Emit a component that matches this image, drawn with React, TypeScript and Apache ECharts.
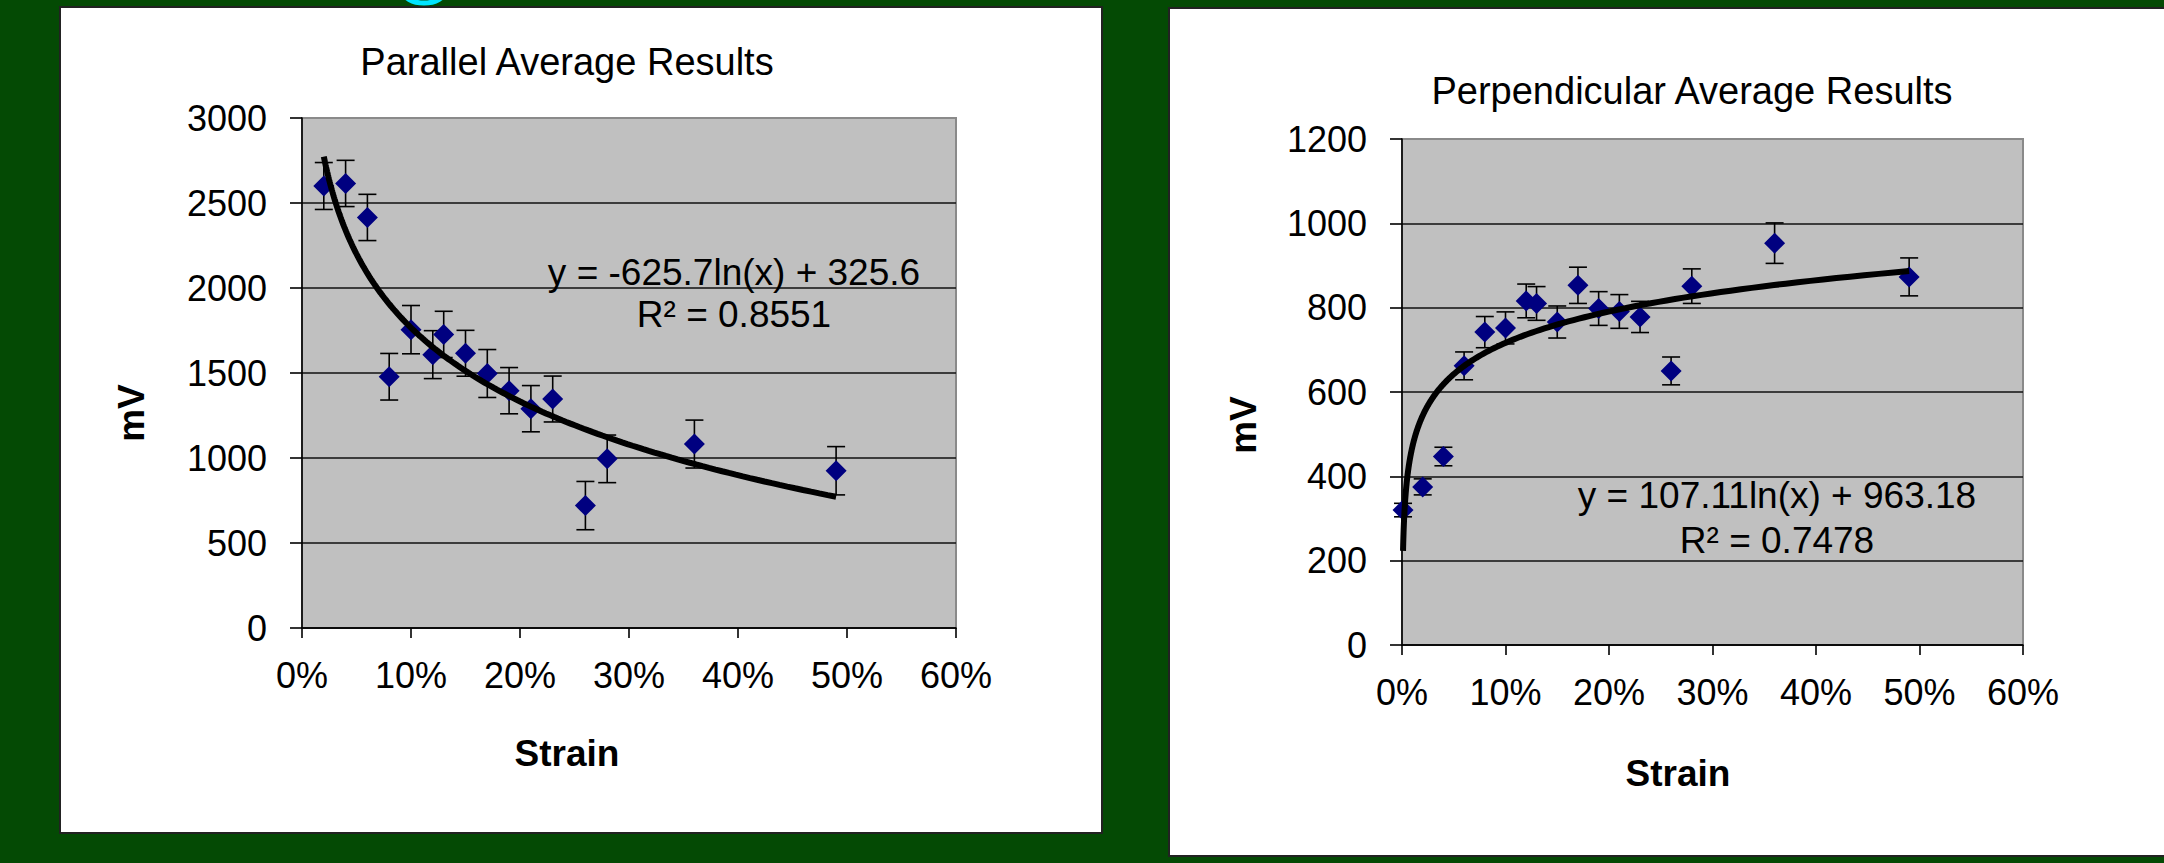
import React, { useEffect, useRef } from "react";
import * as echarts from "echarts";

const W = 2164;
const H = 863;
const FONT = "'Liberation Sans', Arial, sans-serif";

// ---- Parallel chart data ----
const strainParallel = [0.02, 0.04, 0.06, 0.08, 0.10, 0.12, 0.13, 0.15, 0.17, 0.19, 0.21, 0.23, 0.26, 0.28, 0.36, 0.49];
const mvParallel = [2600, 2615, 2415, 1478, 1755, 1608, 1727, 1616, 1497, 1396, 1290, 1347, 720, 995, 1082, 925];
const errParallel = [138, 136, 136, 137, 142, 141, 136, 135, 141, 136, 136, 135, 142, 140, 141, 142];

// ---- Perpendicular chart data ----
const strainPerp = [0.001, 0.02, 0.04, 0.06, 0.08, 0.10, 0.12, 0.13, 0.15, 0.17, 0.19, 0.21, 0.23, 0.26, 0.28, 0.36, 0.49];
const mvPerp = [320, 375, 447, 662, 742, 752, 816, 810, 766, 853, 798, 791, 778, 650, 851, 953, 873];
const errPerp = [16, 19, 22, 33, 37, 38, 40, 40, 38, 43, 40, 40, 37, 33, 41, 48, 45];

// ---- Tick labels ----
const strainTicks = ["0%", "10%", "20%", "30%", "40%", "50%", "60%"];
const mvTicksParallel = ["0", "500", "1000", "1500", "2000", "2500", "3000"];
const mvTicksPerp = ["0", "200", "400", "600", "800", "1000", "1200"];

// ---- Trend lines (coefficients as printed on the charts) ----
const trendParallel = { slope: -625.7, intercept: 325.6 };
const trendPerp = { slope: 107.11, intercept: 963.18 };
const eqParallel = ["y = -625.7ln(x) + 325.6", "R² = 0.8551"];
const eqPerp = ["y = 107.11ln(x) + 963.18", "R² = 0.7478"];

const titles = ["Parallel Average Results", "Perpendicular Average Results"];
const xName = "Strain";
const yName = "mV";

function trendPoints(slope: number, intercept: number, xs: number[]) {
  const lo = Math.min(...xs);
  const hi = Math.max(...xs);
  const n = 200;
  const pts: number[][] = [];
  for (let i = 0; i <= n; i++) {
    const x = lo * Math.pow(hi / lo, i / n);
    pts.push([x, slope * Math.log(x) + intercept]);
  }
  return pts;
}

const errorBarItem = (params: any, api: any) => {
  const x = api.value(0);
  const y = api.value(1);
  const e = api.value(2);
  const top = api.coord([x, y + e]);
  const bot = api.coord([x, y - e]);
  const hw = 9;
  const style = { stroke: "#000", lineWidth: 1.6, fill: "none" };
  return {
    type: "group",
    children: [
      { type: "line", shape: { x1: top[0], y1: top[1], x2: bot[0], y2: bot[1] }, style },
      { type: "line", shape: { x1: top[0] - hw, y1: top[1], x2: top[0] + hw, y2: top[1] }, style },
      { type: "line", shape: { x1: bot[0] - hw, y1: bot[1], x2: bot[0] + hw, y2: bot[1] }, style },
    ],
  };
};

function xAxisOpt(gridIndex: number) {
  return {
    type: "value",
    gridIndex,
    min: 0,
    max: 0.6,
    interval: 0.1,
    axisLine: { show: true, onZero: false, lineStyle: { color: "#000", width: 1.6 } },
    axisTick: { show: true, length: 10, lineStyle: { color: "#000", width: 1.6 } },
    axisLabel: {
      fontSize: 36,
      fontFamily: FONT,
      color: "#000",
      margin: 47,
      verticalAlign: "middle",
      formatter: (v: number, i: number) => strainTicks[i] ?? Math.round(v * 100) + "%",
    },
    splitLine: { show: false },
  };
}

function yAxisOpt(gridIndex: number, max: number, interval: number, labels: string[]) {
  return {
    type: "value",
    gridIndex,
    min: 0,
    max,
    interval,
    axisLine: { show: true, lineStyle: { color: "#000", width: 1.6 } },
    axisTick: { show: true, length: 12, lineStyle: { color: "#000", width: 1.6 } },
    axisLabel: {
      fontSize: 36,
      fontFamily: FONT,
      color: "#000",
      margin: 35,
      formatter: (v: number, i: number) => labels[i] ?? String(v),
    },
    splitLine: { show: true, showMaxLine: false, lineStyle: { color: "#111", width: 1.5 } },
  };
}

function seriesFor(idx: number, xs: number[], ys: number[], errs: number[], trend: { slope: number; intercept: number }) {
  return [
    {
      type: "custom",
      xAxisIndex: idx,
      yAxisIndex: idx,
      renderItem: errorBarItem,
      encode: { x: 0, y: 1 },
      data: xs.map((x, i) => [x, ys[i], errs[i]]),
      z: 2,
      silent: true,
    },
    {
      type: "scatter",
      xAxisIndex: idx,
      yAxisIndex: idx,
      symbol: "diamond",
      symbolSize: 21,
      itemStyle: { color: "#000080", opacity: 1 },
      data: xs.map((x, i) => [x, ys[i]]),
      z: 3,
      silent: true,
    },
    {
      type: "line",
      xAxisIndex: idx,
      yAxisIndex: idx,
      showSymbol: false,
      smooth: false,
      lineStyle: { color: "#000", width: 6 },
      data: trendPoints(trend.slope, trend.intercept, xs),
      z: 4,
      silent: true,
    },
  ];
}

function txt(x: number, y: number, text: string, fontSize: number, extra: any = {}) {
  return {
    type: "text",
    x,
    y,
    z: 50,
    ...extra,
    style: {
      text,
      fontSize,
      fontFamily: FONT,
      fill: "#000",
      align: "center",
      verticalAlign: "middle",
      ...(extra.style || {}),
    },
  };
}

const option: any = {
  animation: false,
  backgroundColor: "#044a04",
  textStyle: { fontFamily: FONT },
  grid: [
    {
      left: 302, top: 118, width: 654, height: 510,
      show: true, backgroundColor: "#c0c0c0", borderColor: "#8a8a8a", borderWidth: 2,
      containLabel: false, outerBoundsMode: "none",
    },
    {
      left: 1402, top: 139, width: 621, height: 506,
      show: true, backgroundColor: "#c0c0c0", borderColor: "#8a8a8a", borderWidth: 2,
      containLabel: false, outerBoundsMode: "none",
    },
  ],
  xAxis: [xAxisOpt(0), xAxisOpt(1)],
  yAxis: [
    yAxisOpt(0, 3000, 500, mvTicksParallel),
    yAxisOpt(1, 1200, 200, mvTicksPerp),
  ],
  series: [
    ...seriesFor(0, strainParallel, mvParallel, errParallel, trendParallel),
    ...seriesFor(1, strainPerp, mvPerp, errPerp, trendPerp),
  ],
  graphic: [
    {
      type: "ellipse",
      z: -20,
      shape: { cx: 424, cy: -9, rx: 21, ry: 12 },
      style: { fill: "none", stroke: "#00e5ff", lineWidth: 5 },
    },
    {
      type: "rect",
      z: -10,
      shape: { x: 60, y: 7, width: 1042, height: 826 },
      style: { fill: "#ffffff", stroke: "#222", lineWidth: 2 },
    },
    {
      type: "rect",
      z: -10,
      shape: { x: 1169, y: 8, width: 1010, height: 848 },
      style: { fill: "#ffffff", stroke: "#222", lineWidth: 2 },
    },
    txt(567, 62, titles[0], 38),
    txt(1692, 91, titles[1], 38),
    txt(567, 753, xName, 37, { style: { fontWeight: "bold" } }),
    txt(1678, 773, xName, 37, { style: { fontWeight: "bold" } }),
    txt(131, 413, yName, 37, { rotation: Math.PI / 2, style: { fontWeight: "bold" } }),
    txt(1243, 425, yName, 37, { rotation: Math.PI / 2, style: { fontWeight: "bold" } }),
    txt(734, 272, eqParallel[0], 37),
    txt(734, 314, eqParallel[1], 37),
    txt(1777, 495, eqPerp[0], 37),
    txt(1777, 540, eqPerp[1], 37),
  ],
};

export default function App() {
  const ref = useRef<HTMLDivElement>(null);
  useEffect(() => {
    const chart = echarts.init(ref.current as HTMLDivElement, null, { renderer: "svg", width: W, height: H });
    chart.setOption(option);
    return () => chart.dispose();
  }, []);
  return <div ref={ref} style={{ position: "fixed", left: 0, top: 0, width: W, height: H }} />;
}
